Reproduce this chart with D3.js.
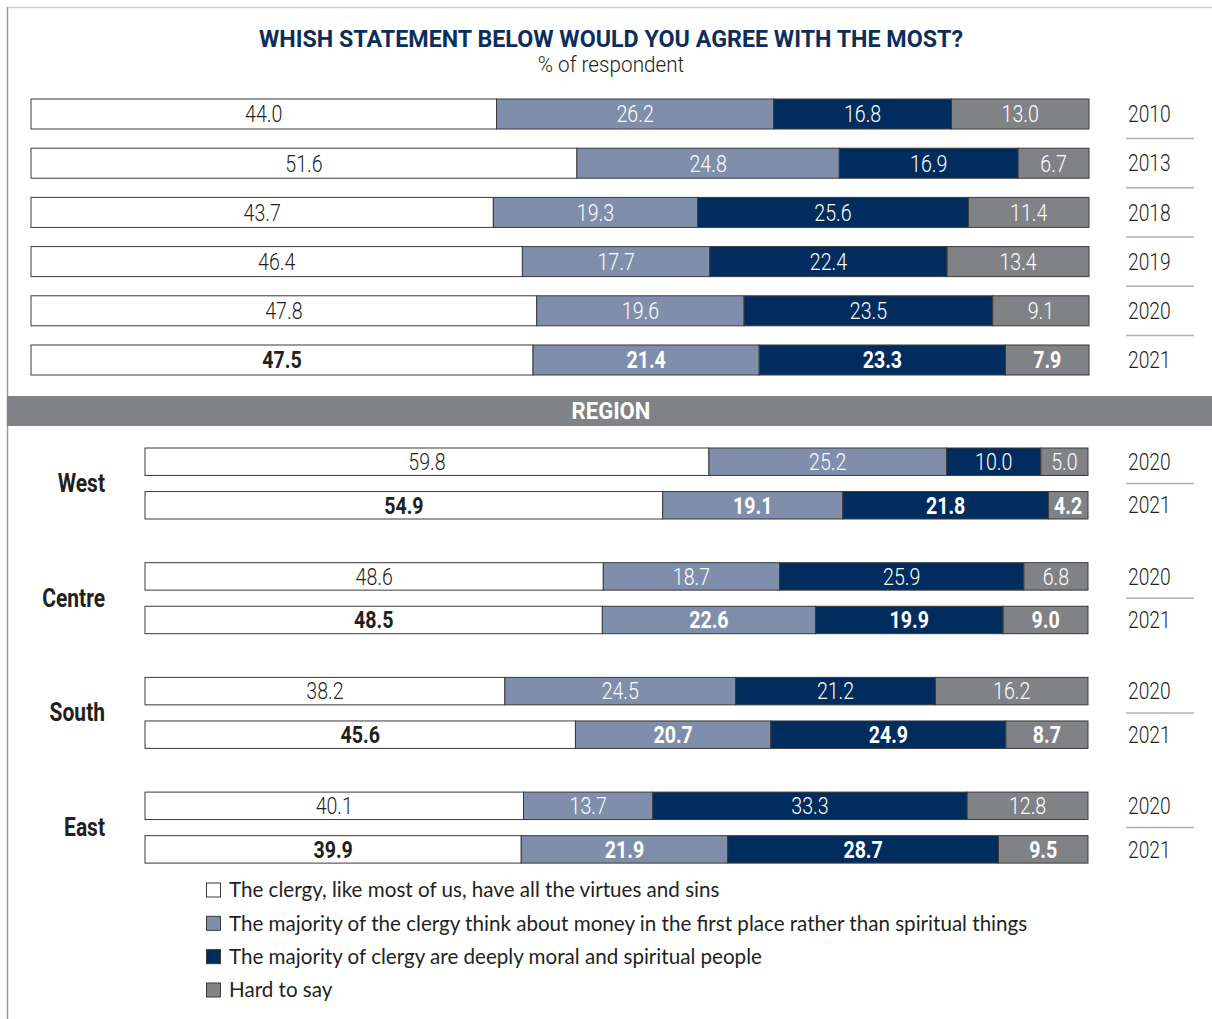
<!DOCTYPE html>
<html><head><meta charset="utf-8">
<script src="https://cdn.jsdelivr.net/npm/d3@7"></script>
<style>
body{margin:0;background:#fff;}
svg{display:block;}
</style></head><body>
<svg id="chart" width="1212" height="1019"></svg>
<script>
const categories = [
  "The clergy, like most of us, have all the virtues and sins",
  "The majority of the clergy think about money in the first place rather than spiritual things",
  "The majority of clergy are deeply moral and spiritual people",
  "Hard to say"
];
const colors = ["#ffffff", "#7f8fab", "#002d5d", "#808285"];
const labelColors = ["#231f20", "#ffffff", "#ffffff", "#ffffff"];

const years = ["2010", "2013", "2018", "2019", "2020", "2021"];
const yearValues = [
  [44.0, 26.2, 16.8, 13.0],
  [51.6, 24.8, 16.9, 6.7],
  [43.7, 19.3, 25.6, 11.4],
  [46.4, 17.7, 22.4, 13.4],
  [47.8, 19.6, 23.5, 9.1],
  [47.5, 21.4, 23.3, 7.9]
];

const regions = ["West", "Centre", "South", "East"];
const regionYears = ["2020", "2021"];
const regionValues = [
  [[59.8, 25.2, 10.0, 5.0], [54.9, 19.1, 21.8, 4.2]],
  [[48.6, 18.7, 25.9, 6.8], [48.5, 22.6, 19.9, 9.0]],
  [[38.2, 24.5, 21.2, 16.2], [45.6, 20.7, 24.9, 8.7]],
  [[40.1, 13.7, 33.3, 12.8], [39.9, 21.9, 28.7, 9.5]]
];

const title = "WHISH STATEMENT BELOW WOULD YOU AGREE WITH THE MOST?";
const subtitle = "% of respondent";
const sectionLabel = "REGION";

const svg = d3.select("#chart");
const FONT = 'Roboto, "Noto Sans", sans-serif';
const SX = 0.8;
const TXT = "#231f20";

function ctext(g, x, y, txt, size, weight, fill, anchor, dy, sx) {
  return g.append("text")
    .attr("transform", `translate(${x},${y}) scale(${sx || SX},1)`)
    .attr("dy", dy || "0.34em")
    .attr("text-anchor", anchor || "start")
    .attr("font-family", FONT).attr("font-size", size)
    .attr("font-weight", weight).attr("fill", fill).text(txt);
}

// frame
svg.append("line").attr("x1", 7).attr("x2", 1212).attr("y1", 7.5).attr("y2", 7.5).attr("stroke", "#d0d0d0").attr("stroke-width", 1.5);
svg.append("line").attr("x1", 7.5).attr("x2", 7.5).attr("y1", 7).attr("y2", 1019).attr("stroke", "#9a9a9a").attr("stroke-width", 1.5);

// title
ctext(svg, 611, 47, title, 24.5, 700, "#0d2d5a", "middle", "0", 0.95);
ctext(svg, 611, 72, subtitle, 22.5, 300, TXT, "middle", "0", 0.92);

function drawRow(g, vals, x0, x1, y, h, bold) {
  const total = d3.sum(vals);
  const x = d3.scaleLinear().domain([0, total]).range([x0, x1]);
  const cum = d3.cumsum(vals);
  const segs = vals.map((v, i) => ({v, i, s: cum[i] - v, e: cum[i]}));
  g.selectAll(null).data(segs).join("rect")
    .attr("x", d => x(d.s)).attr("y", y)
    .attr("width", d => x(d.e) - x(d.s)).attr("height", h)
    .attr("fill", d => colors[d.i]).attr("stroke", "#3a3a3a").attr("stroke-width", 1);
  g.selectAll(null).data(segs).join("text")
    .attr("transform", d => `translate(${(x(d.s) + x(d.e)) / 2},${y + h / 2}) scale(${SX},1)`)
    .attr("dy", "0.34em").attr("text-anchor", "middle")
    .attr("font-family", FONT).attr("font-size", 24.5)
    .attr("font-weight", bold ? 700 : 300)
    .attr("fill", d => labelColors[d.i]).text(d => d.v.toFixed(1));
}

// top section
const yTop = d3.scaleBand().domain(years).range([99, 375]).paddingInner(0.39);
const gTop = svg.append("g");
years.forEach((yr, i) => {
  drawRow(gTop, yearValues[i], 31, 1089, yTop(yr), yTop.bandwidth(), yr === "2021");
  ctext(gTop, 1128, yTop(yr) + yTop.bandwidth() / 2, yr, 24, 300, TXT, "start");
  if (i < years.length - 1) {
    const ys = yTop(yr) + yTop.bandwidth() + (yTop.step() - yTop.bandwidth()) / 2;
    gTop.append("line").attr("x1", 1126).attr("x2", 1194).attr("y1", ys).attr("y2", ys)
      .attr("stroke", "#b0b0b0").attr("stroke-width", 1.5);
  }
});

// region band
svg.append("rect").attr("x", 7).attr("y", 396).attr("width", 1205).attr("height", 30).attr("fill", "#808285");
ctext(svg, 611, 411, sectionLabel, 24, 700, "#fff", "middle", null, 0.92);

// region section
const yReg = d3.scaleBand().domain(regions).range([448, 448 + 4 * 114.7]).paddingInner(0).paddingOuter(0);
const yIn = d3.scaleBand().domain(regionYears).range([0, 71]).paddingInner(0.37);
const gReg = svg.append("g");
regions.forEach((r, ri) => {
  const gy = yReg(r);
  regionYears.forEach((yr, yi) => {
    drawRow(gReg, regionValues[ri][yi], 145, 1088, gy + yIn(yr), yIn.bandwidth(), yr === "2021");
    ctext(gReg, 1128, gy + yIn(yr) + yIn.bandwidth() / 2, yr, 24, 300, TXT, "start");
  });
  const ys = gy + yIn("2020") + yIn.bandwidth() + (yIn.step() - yIn.bandwidth()) / 2;
  gReg.append("line").attr("x1", 1126).attr("x2", 1194).attr("y1", ys).attr("y2", ys)
    .attr("stroke", "#b0b0b0").attr("stroke-width", 1.5);
  ctext(gReg, 105, gy + 35.5, r, 25, 700, TXT, "end", null, 0.84);
});

// legend
const yLeg = d3.scalePoint().domain(categories).range([890, 990]);
const gLeg = svg.append("g");
gLeg.selectAll(null).data(categories).join("rect")
  .attr("x", 206.5).attr("y", d => yLeg(d) - 7).attr("width", 14).attr("height", 14)
  .attr("fill", (d, i) => colors[i]).attr("stroke", "#3a3a3a").attr("stroke-width", 1);
gLeg.selectAll(null).data(categories).join("text")
  .attr("x", 229).attr("y", d => yLeg(d)).attr("dy", "0.36em")
  .attr("font-family", "Lato, 'Open Sans', sans-serif").attr("font-size", 20.6).attr("fill", TXT)
  .text(d => d);
</script>
</body></html>
